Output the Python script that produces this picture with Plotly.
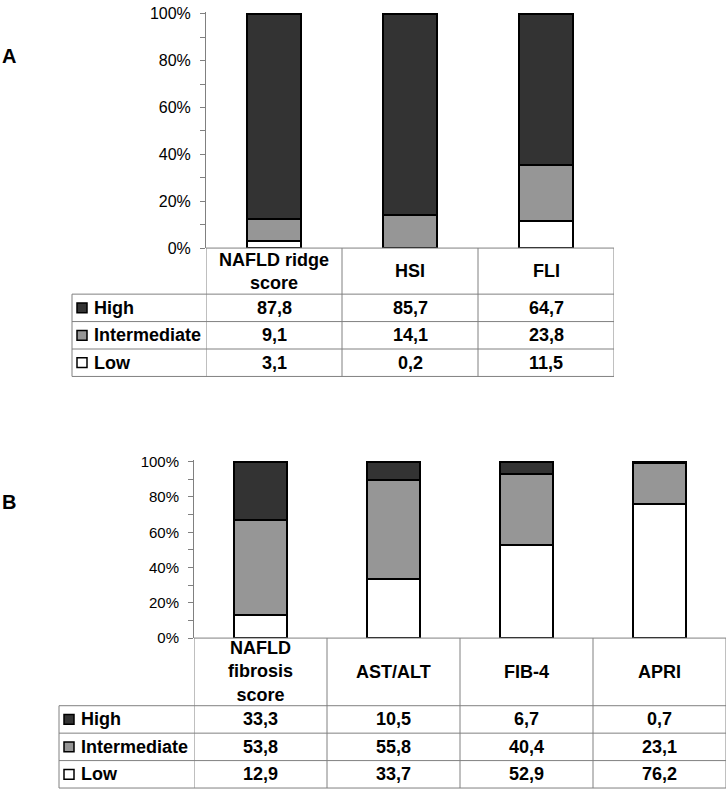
import plotly.graph_objects as go

W, H = 727, 798

# ---------------- data ----------------
cats_a = ["NAFLD ridge score", "HSI", "FLI"]
head_a = ["NAFLD ridge<br>score", "HSI", "FLI"]
high_a = [87.8, 85.7, 64.7]
inter_a = [9.1, 14.1, 23.8]
low_a = [3.1, 0.2, 11.5]

cats_b = ["NAFLD fibrosis score", "AST/ALT", "FIB-4", "APRI"]
head_b = ["NAFLD<br>fibrosis<br>score", "AST/ALT", "FIB-4", "APRI"]
high_b = [33.3, 10.5, 6.7, 0.7]
inter_b = [53.8, 55.8, 40.4, 23.1]
low_b = [12.9, 33.7, 52.9, 76.2]

levels = ["High", "Intermediate", "Low"]
y_ticks = [0, 20, 40, 60, 80, 100]
y_ticktext = ["0%", "20%", "40%", "60%", "80%", "100%"]

# ---------------- style ----------------
colors = {"High": "#333333", "Intermediate": "#969696", "Low": "#ffffff"}
grid = "#808080"
FONT = "Liberation Sans, Arial, sans-serif"


def px(x):
    return x / W


def py(y):
    return 1 - y / H


panels = [
    dict(name="A", cats=cats_a, head=head_a, vals={"High": high_a, "Intermediate": inter_a, "Low": low_a},
         left=206, right=614, top=7, bottom=246, hb=293, rh=28, legl=72, sqx=77, txx=92,
         lab=(9, 50), tickfs=16, xa="x", ya="y"),
    dict(name="B", cats=cats_b, head=head_b, vals={"High": high_b, "Intermediate": inter_b, "Low": low_b},
         left=194, right=726, top=464, bottom=644, hb=713, rh=28, legl=59, sqx=64, txx=79,
         lab=(9, 505), tickfs=15, xa="x2", ya="y2"),
]

fig = go.Figure()
shapes = []
annots = []
RTOP = 101.0

for i, p in enumerate(panels):
    n = len(p["cats"])
    for lvl in ["Low", "Intermediate", "High"]:
        fig.add_trace(go.Bar(
            x=p["cats"], y=p["vals"][lvl], name=lvl, width=0.4,
            marker=dict(color=colors[lvl], line=dict(color="black", width=2)),
            xaxis=p["xa"], yaxis=p["ya"], showlegend=False, hoverinfo="skip"))
    suffix = "" if i == 0 else "2"
    top_px = p["top"] - (p["bottom"] - p["top"]) * (RTOP - 100) / 100
    fig.update_layout(**{
        "xaxis" + suffix: dict(domain=[px(p["left"]), px(p["right"])], range=[-0.5, n - 0.5],
                               type="category", categoryorder="array", categoryarray=p["cats"],
                               showticklabels=False, showline=False, showgrid=False, zeroline=False,
                               ticks="", anchor="y" + suffix, fixedrange=True),
        "yaxis" + suffix: dict(domain=[py(p["bottom"]), py(top_px)], range=[0, RTOP],
                               tickvals=y_ticks, ticktext=y_ticktext, ticks="outside", ticklen=5,
                               tickcolor=grid, showline=True, linecolor=grid, linewidth=1,
                               showgrid=False, zeroline=False, anchor="x" + suffix,
                               ticklabelstandoff=6,
                               tickfont=dict(family=FONT, size=p["tickfs"], color="black"),
                               minor=dict(dtick=10, ticks="outside", ticklen=5, tickcolor=grid),
                               fixedrange=True),
    })
    tb = p["hb"] + 3 * p["rh"]
    # header top line (0%)
    shapes.append(dict(type="line", xref="paper", yref="paper", x0=px(p["left"]), x1=px(p["right"]),
                       y0=py(p["bottom"]), y1=py(p["bottom"]), line=dict(color=grid, width=1)))
    # horizontal row lines
    for k in range(4):
        yy = p["hb"] + k * p["rh"]
        shapes.append(dict(type="line", xref="paper", yref="paper", x0=px(p["legl"]), x1=px(p["right"]),
                           y0=py(yy), y1=py(yy), line=dict(color=grid, width=1)))
    # legend column left edge
    shapes.append(dict(type="line", xref="paper", yref="paper", x0=px(p["legl"]), x1=px(p["legl"]),
                       y0=py(p["hb"]), y1=py(tb), line=dict(color=grid, width=1)))
    # category boundaries
    for j in range(n + 1):
        shapes.append(dict(type="line", xref=p["xa"], yref="paper", x0=j - 0.5, x1=j - 0.5,
                           y0=py(p["bottom"]), y1=py(tb), line=dict(color=grid, width=1)))
    # header labels
    for j, h in enumerate(p["head"]):
        annots.append(dict(xref=p["xa"], yref="paper", x=j, y=py((p["bottom"] + p["hb"]) / 2),
                           text="<b>" + h + "</b>", showarrow=False, xanchor="center", yanchor="middle",
                           font=dict(family=FONT, size=18, color="black")))
    # rows
    for k, lvl in enumerate(levels):
        yc = p["hb"] + (k + 0.5) * p["rh"]
        shapes.append(dict(type="rect", xref="paper", yref="paper",
                           x0=px(p["sqx"]), x1=px(p["sqx"] + 10), y0=py(yc - 5), y1=py(yc + 5),
                           fillcolor=colors[lvl], line=dict(color="black", width=1.5)))
        annots.append(dict(xref="paper", yref="paper", x=px(p["txx"]), y=py(yc),
                           text="<b>" + lvl + "</b>", showarrow=False, xanchor="left", yanchor="middle",
                           font=dict(family=FONT, size=18, color="black")))
        for j, v in enumerate(p["vals"][lvl]):
            annots.append(dict(xref=p["xa"], yref="paper", x=j, y=py(yc),
                               text="<b>" + f"{v:.1f}".replace(".", ",") + "</b>", showarrow=False,
                               xanchor="center", yanchor="middle",
                               font=dict(family=FONT, size=18, color="black")))
    # panel label
    annots.append(dict(xref="paper", yref="paper", x=px(p["lab"][0]), y=py(p["lab"][1]),
                       text="<b>" + p["name"] + "</b>", showarrow=False, xanchor="center", yanchor="middle",
                       font=dict(family=FONT, size=20, color="black")))

fig.update_layout(
    width=W, height=H, margin=dict(l=0, r=0, t=0, b=0),
    barmode="stack", bargap=0.6,
    plot_bgcolor="white", paper_bgcolor="white",
    shapes=shapes, annotations=annots, showlegend=False,
    font=dict(family=FONT, color="black"),
)

fig.write_html("out.html", config={"displayModeBar": False, "staticPlot": True},
               post_script="document.body.style.margin='0px';document.body.style.overflow='hidden';")
